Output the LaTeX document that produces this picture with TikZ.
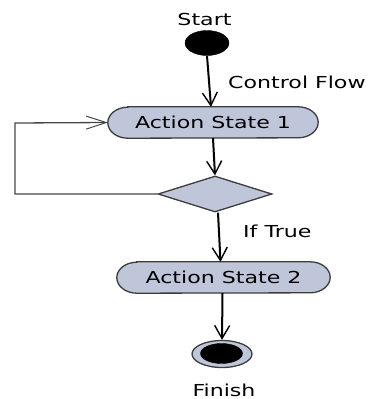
\documentclass[tikz,border=0pt]{standalone}
\usepackage{fontspec}
\setmainfont{DejaVu Sans}[FakeStretch=1.34]
\usetikzlibrary{arrows.meta,shapes.geometric,backgrounds}
\definecolor{statefill}{RGB}{192,198,217}
\definecolor{edgegray}{RGB}{60,60,60}
\definecolor{loopgray}{RGB}{70,70,70}
\tikzset{
  lbl/.style={font=\fontsize{16.5pt}{19pt}\selectfont, inner sep=0pt, anchor=base},
  statetxt/.style={font=\fontsize{16.5pt}{19pt}\selectfont, inner sep=0pt},
  pillshape/.style={fill=statefill, draw=edgegray, line width=1.3pt},
  flow/.style={draw=black, line width=2pt, -{Straight Barb[length=13pt,width=15pt,line width=1.4pt]}},
  loopflow/.style={draw=loopgray, line width=1.3pt, -{Straight Barb[length=20pt,width=13pt,line width=1pt]}},
}
\begin{document}
\begin{tikzpicture}[x=1pt,y=-1pt]
\useasboundingbox (0,0) rectangle (368,399);

% start node
\node[ellipse, fill=black, draw=black, minimum width=44pt, minimum height=25pt, inner sep=0pt] (start) at (207,43) {};
\node[lbl] (startlbl) at (204.5,25) {Start};

% action states
\node[statetxt, minimum width=210pt, minimum height=31pt] (as1) at (213,122.5) {Action State 1};
\node[statetxt, minimum width=213pt, minimum height=31pt] (as2) at (223.5,277.5) {Action State 2};

% decision
\node[diamond, fill=statefill, draw=edgegray, line width=1.3pt, inner sep=0pt, minimum width=114pt, minimum height=36pt] (dia) at (215,194) {};

% final node
\node[ellipse, fill=statefill, draw=edgegray, line width=1.3pt, minimum width=60pt, minimum height=27pt, inner sep=0pt] (fin) at (222,354) {};
\node[ellipse, fill=black, draw=black, minimum width=42pt, minimum height=20pt, inner sep=0pt] (fininner) at (221.5,353.5) {};

% labels
\node[lbl, anchor=base west] (cf) at (228,88) {Control Flow};
\node[lbl, anchor=base west] (iftrue) at (243,237) {If True};
\node[lbl] (finlbl) at (224,396) {Finish};

% pill backgrounds
\begin{scope}[on background layer]
\draw[pillshape] ([xshift=20pt]as1.north west) -- ([xshift=-20pt]as1.north east)
  arc[start angle=90,end angle=-90,x radius=20pt,y radius=15.5pt]
  -- ([xshift=20pt]as1.south west)
  arc[start angle=270,end angle=90,x radius=20pt,y radius=15.5pt] -- cycle;
\draw[pillshape] ([xshift=20pt]as2.north west) -- ([xshift=-20pt]as2.north east)
  arc[start angle=90,end angle=-90,x radius=20pt,y radius=15.5pt]
  -- ([xshift=20pt]as2.south west)
  arc[start angle=270,end angle=90,x radius=20pt,y radius=15.5pt] -- cycle;
\end{scope}

% connectors
\draw[flow] (start.south) -- ([xshift=-2pt]as1.north);
\draw[flow] (as1.south) -- (dia.north);
\draw[flow] ([xshift=3pt]dia.south) -- ([xshift=-3pt]as2.north);
\draw[flow] ([xshift=-1pt]as2.south) -- (fin.north);

\coordinate (lb) at (15,194);
\coordinate (lt) at (15,123);
\draw[loopflow] (dia.west) -- (lb) -- (lt) -- (as1.west);
\end{tikzpicture}
\end{document}
